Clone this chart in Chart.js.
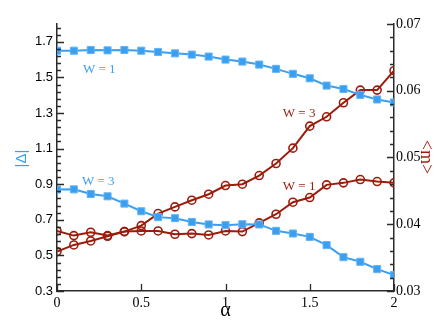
<!DOCTYPE html>
<html>
<head>
<meta charset="utf-8">
<script src="https://cdn.jsdelivr.net/npm/chart.js@4"></script>
<style>
html,body{margin:0;padding:0;background:#fff;}
canvas{display:block;}
</style>
</head>
<body>
<canvas id="c" width="436" height="328"></canvas>
<script>
// ---- data ----
const alphas = [0,0.1,0.2,0.3,0.4,0.5,0.6,0.7,0.8,0.9,1.0,1.1,1.2,1.3,1.4,1.5,1.6,1.7,1.8,1.9,2.0];
const gapW1 = [1.650,1.650,1.654,1.652,1.654,1.650,1.643,1.635,1.628,1.617,1.600,1.589,1.572,1.548,1.520,1.495,1.454,1.435,1.402,1.376,1.359];
const gapW3 = [0.870,0.871,0.845,0.832,0.791,0.748,0.715,0.709,0.688,0.674,0.670,0.675,0.674,0.638,0.623,0.604,0.558,0.490,0.464,0.423,0.390];
const magW1 = [0.0390,0.0383,0.0388,0.0383,0.0389,0.0390,0.0390,0.0385,0.0386,0.0384,0.0390,0.0389,0.0402,0.0415,0.0433,0.0440,0.0459,0.0462,0.0467,0.0464,0.0462];
const magW3 = [0.0359,0.0369,0.0375,0.0382,0.0389,0.0398,0.0416,0.0426,0.0436,0.0445,0.0458,0.0460,0.0473,0.0491,0.0514,0.0547,0.0561,0.0582,0.0601,0.0601,0.0630];
const xTicks = [0,0.5,1,1.5,2];
const leftTicks = [0.3,0.5,0.7,0.9,1.1,1.3,1.5,1.7];
const rightTicks = [0.03,0.04,0.05,0.06,0.07];
const xLabels = ['0','0.5','1','1.5','2'];
const leftLabels = ['0.3','0.5','0.7','0.9','1.1','1.3','1.5','1.7'];
const rightLabels = ['0.03','0.04','0.05','0.06','0.07'];

const BLUE = '#3b9ff0';
const RED = '#9c1c0b';
const AXIS = '#2a2a2a';

const pts = (ys) => alphas.map((a,i)=>({x:a,y:ys[i]}));

// annotations in data coordinates
const notes = [
  {text:'W = 1', color:BLUE, axis:'y',  x:0.154, y:1.544},
  {text:'W = 3', color:BLUE, axis:'y',  x:0.148, y:0.916},
  {text:'W = 3', color:RED,  axis:'y2', x:1.340, y:0.0566},
  {text:'W = 1', color:RED,  axis:'y2', x:1.340, y:0.0456}
];

const decor = {
  id:'decor',
  afterDraw(chart){
    const ctx = chart.ctx;
    const xs = chart.scales.x, ys = chart.scales.y, y2 = chart.scales.y2;
    const ca = chart.chartArea;
    ctx.save();
    ctx.strokeStyle = AXIS;
    ctx.lineWidth = 1.3;
    ctx.beginPath();
    // x major ticks (inward)
    xTicks.forEach(v=>{const p=Math.round(xs.getPixelForValue(v))+0.5; ctx.moveTo(p,ca.bottom); ctx.lineTo(p,ca.bottom-7);});
    // left ticks
    for(let v=0.3; v<=1.8001; v+=0.04){
      const p=Math.round(ys.getPixelForValue(v))+0.5;
      const major = leftTicks.some(t=>Math.abs(t-v)<1e-6);
      ctx.moveTo(ca.left,p); ctx.lineTo(ca.left+(major?7:4),p);
    }
    // right ticks
    for(let v=0.03; v<=0.07001; v+=0.002){
      const p=Math.round(y2.getPixelForValue(v))+0.5;
      const major = rightTicks.some(t=>Math.abs(t-v)<1e-6);
      ctx.moveTo(ca.right,p); ctx.lineTo(ca.right-(major?7:4),p);
    }
    ctx.stroke();

    // annotations
    ctx.font = '13px "Liberation Serif", serif';
    ctx.textAlign='left'; ctx.textBaseline='middle';
    notes.forEach(n=>{
      const sc = chart.scales[n.axis];
      ctx.fillStyle=n.color;
      ctx.fillText(n.text, xs.getPixelForValue(n.x), sc.getPixelForValue(n.y));
    });

    // axis titles
    ctx.fillStyle='#000';
    ctx.font='20px "Liberation Serif", serif';
    ctx.textAlign='center';
    ctx.fillText('α', (ca.left+ca.right)/2, 311);

    ctx.save();
    ctx.translate(21.5,158.5);
    ctx.rotate(-Math.PI/2);
    ctx.fillStyle=BLUE;
    ctx.font='15px "Liberation Sans", sans-serif';
    ctx.fillText('|Δ|',0,0);
    ctx.restore();

    ctx.save();
    ctx.translate(426,157);
    ctx.rotate(Math.PI/2);
    ctx.fillStyle=RED;
    ctx.font='18px "Liberation Serif", serif';
    ctx.fillText('<m>',0,0);
    ctx.restore();
    ctx.restore();
  }
};

new Chart(document.getElementById('c'), {
  type:'line',
  data:{
    datasets:[
      {label:'|Δ| W=1', data:pts(gapW1), yAxisID:'y', borderColor:BLUE, backgroundColor:BLUE,
       pointStyle:'rect', pointRadius:5, pointBorderColor:'#62b4f6', pointBackgroundColor:BLUE, pointBorderWidth:1, borderWidth:2, tension:0},
      {label:'|Δ| W=3', data:pts(gapW3), yAxisID:'y', borderColor:BLUE, backgroundColor:BLUE,
       pointStyle:'rect', pointRadius:5, pointBorderColor:'#62b4f6', pointBackgroundColor:BLUE, pointBorderWidth:1, borderWidth:2, tension:0},
      {label:'<m> W=1', data:pts(magW1), yAxisID:'y2', borderColor:RED,
       pointStyle:'circle', pointRadius:4, pointBorderColor:RED, pointBackgroundColor:'rgba(0,0,0,0)', pointBorderWidth:1.6, borderWidth:2, tension:0},
      {label:'<m> W=3', data:pts(magW3), yAxisID:'y2', borderColor:RED,
       pointStyle:'circle', pointRadius:4, pointBorderColor:RED, pointBackgroundColor:'rgba(0,0,0,0)', pointBorderWidth:1.6, borderWidth:2, tension:0}
    ]
  },
  options:{
    responsive:false,
    animation:false,
    devicePixelRatio:1,
    layout:{padding:{top:24,left:0,right:0,bottom:0}},
    plugins:{legend:{display:false}, tooltip:{enabled:false}},
    scales:{
      x:{type:'linear', min:0, max:2,
        afterBuildTicks:(s)=>{s.ticks = xTicks.map(v=>({value:v}));},
        afterFit:(s)=>{s.height=37;},
        grid:{display:true, drawOnChartArea:false, drawTicks:false},
        border:{display:true, color:AXIS, width:1.5},
        ticks:{padding:4, maxRotation:0, autoSkip:false, color:'#000',
          font:{family:'"Liberation Serif", serif', size:14},
          callback:(v)=>{const i=xTicks.indexOf(v); return i>=0?xLabels[i]:'';}}
      },
      y:{type:'linear', position:'left', min:0.3, max:1.8,
        afterBuildTicks:(s)=>{s.ticks = leftTicks.map(v=>({value:v}));},
        afterFit:(s)=>{s.width=57;},
        grid:{display:true, drawOnChartArea:false, drawTicks:false},
        border:{display:true, color:AXIS, width:1.5},
        ticks:{padding:4, autoSkip:false, color:'#000',
          font:{family:'"Liberation Sans", sans-serif', size:13},
          callback:(v)=>{const i=leftTicks.findIndex(t=>Math.abs(t-v)<1e-9); return i>=0?leftLabels[i]:'';}}
      },
      y2:{type:'linear', position:'right', min:0.03, max:0.07,
        afterBuildTicks:(s)=>{s.ticks = rightTicks.map(v=>({value:v}));},
        afterFit:(s)=>{s.width=42;},
        grid:{display:true, drawOnChartArea:false, drawTicks:false},
        border:{display:true, color:AXIS, width:1.5},
        ticks:{padding:2, autoSkip:false, color:'#000',
          font:{family:'"Liberation Serif", serif', size:14},
          callback:(v)=>{const i=rightTicks.findIndex(t=>Math.abs(t-v)<1e-9); return i>=0?rightLabels[i]:'';}}
      }
    }
  },
  plugins:[decor]
});
</script>
</body>
</html>
